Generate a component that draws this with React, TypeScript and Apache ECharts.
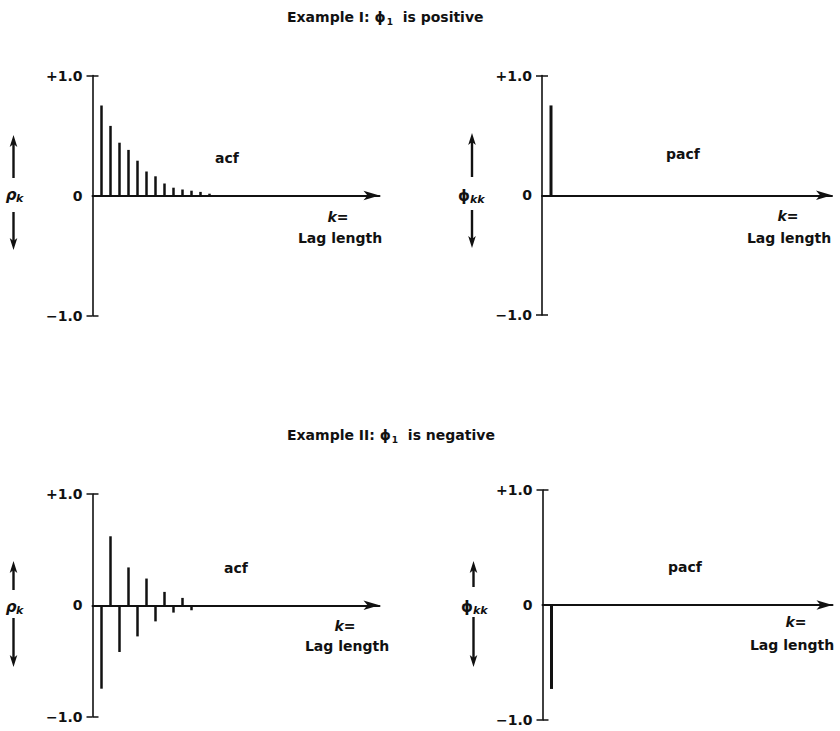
import React, { useEffect, useRef } from 'react';
import * as echarts from 'echarts';

// Correlogram values (lag k = 1, 2, ...)
const ACF_PHI_POSITIVE = [0.75, 0.58, 0.44, 0.38, 0.29, 0.2, 0.16, 0.1, 0.065, 0.05, 0.04, 0.03, 0.015];
const PACF_PHI_POSITIVE = [0.75];
const ACF_PHI_NEGATIVE = [-0.75, 0.62, -0.42, 0.34, -0.28, 0.24, -0.145, 0.12, -0.066, 0.066, -0.045];
const PACF_PHI_NEGATIVE = [-0.73];

const Y_TICKS = [-1, 0, 1];
const Y_TICK_LABELS = ['\u22121.0', '0', '+1.0'];
const PANEL_NAMES = ['acf', 'pacf', 'acf', 'pacf'];
const EXAMPLE_TITLES = [
  { head: 'Example I: \u03d5', tail: 'is positive' },
  { head: 'Example II: \u03d5', tail: 'is negative' },
];

const FONT = '"DejaVu Sans", "Open Sans", sans-serif';
const INK = '#111';
const LAG_PX = 9; // horizontal spacing of one lag step

type Panel = {
  left: number;
  top: number;
  width: number;
  height: number;
  values: number[];
  barWidth: number;
  name: string;
  symbol: 'rho' | 'phi';
  nameAt: [number, number];
  kAt: [number, number];
  lagAt: [number, number];
  symAt: [number, number];
  arrowX: number;
  upArrow: [number, number];
  downArrow: [number, number];
};

const panels: Panel[] = [
  {
    left: 92.5, top: 75.5, width: 287, height: 240, values: ACF_PHI_POSITIVE, barWidth: 2.5,
    name: PANEL_NAMES[0], symbol: 'rho', nameAt: [227, 158], kAt: [338, 217], lagAt: [340, 238],
    symAt: [11, 195], arrowX: 13.5, upArrow: [178, 135], downArrow: [212, 250],
  },
  {
    left: 542, top: 75.5, width: 290, height: 239.5, values: PACF_PHI_POSITIVE, barWidth: 3,
    name: PANEL_NAMES[1], symbol: 'phi', nameAt: [683, 154], kAt: [788, 216], lagAt: [789, 238],
    symAt: [464, 196], arrowX: 472, upArrow: [177, 133], downArrow: [210, 248],
  },
  {
    left: 92.5, top: 494, width: 287, height: 222.5, values: ACF_PHI_NEGATIVE, barWidth: 2.5,
    name: PANEL_NAMES[2], symbol: 'rho', nameAt: [236, 568], kAt: [345, 626], lagAt: [347, 646],
    symAt: [11, 607], arrowX: 13.5, upArrow: [590, 561], downArrow: [618, 667],
  },
  {
    left: 542.5, top: 490, width: 290, height: 230, values: PACF_PHI_NEGATIVE, barWidth: 3,
    name: PANEL_NAMES[3], symbol: 'phi', nameAt: [685, 567], kAt: [796, 622], lagAt: [792, 645],
    symAt: [467, 607], arrowX: 473.5, upArrow: [587, 561], downArrow: [617, 667],
  },
];

const textStyle = (size: number, extra: Record<string, unknown> = {}) => ({
  fontFamily: FONT,
  fontSize: size,
  fontWeight: 'bold',
  fill: INK,
  ...extra,
});

// vertical arrow: shaft from y0 to the tip at y1
function vArrow(x: number, y0: number, y1: number) {
  const dir = y1 < y0 ? -1 : 1;
  const headLen = 12;
  const headHalf = 3.8;
  return {
    type: 'group',
    children: [
      {
        type: 'line',
        shape: { x1: x, y1: y0, x2: x, y2: y1 - dir * headLen * 0.6 },
        style: { stroke: INK, lineWidth: 2.4 },
      },
      {
        type: 'polygon',
        shape: {
          points: [
            [x, y1],
            [x - headHalf, y1 - dir * headLen],
            [x, y1 - dir * headLen * 0.75],
            [x + headHalf, y1 - dir * headLen],
          ],
        },
        style: { fill: INK },
      },
    ],
  };
}

export default function App() {
  const ref = useRef<HTMLDivElement>(null);

  useEffect(() => {
    if (!ref.current) return;
    const chart = echarts.init(ref.current, null, { renderer: 'svg' });

    const labelFor = (v: number) => Y_TICK_LABELS[Y_TICKS.indexOf(Math.round(v))] ?? '';

    const grids = panels.map((p) => ({
      left: p.left,
      top: p.top,
      width: p.width,
      height: p.height,
      containLabel: false,
    }));

    const xAxes = panels.map((p, i) => ({
      type: 'value',
      gridIndex: i,
      min: 0,
      max: p.width / LAG_PX,
      axisLine: {
        show: true,
        onZero: true,
        lineStyle: { color: INK, width: 2 },
        symbol: ['none', 'arrow'],
        symbolSize: [7, 16],
      },
      axisTick: { show: false },
      axisLabel: { show: false },
      splitLine: { show: false },
    }));

    const yAxes: any[] = [];
    panels.forEach((p, i) => {
      // outer ticks with labels
      yAxes.push({
        type: 'value',
        gridIndex: i,
        min: -1,
        max: 1,
        interval: 1,
        position: 'left',
        axisLine: { show: true, onZero: false, lineStyle: { color: INK, width: 1.6 } },
        axisTick: { show: true, length: 6, customValues: [-1, 1], lineStyle: { color: INK, width: 1.5 } },
        axisLabel: {
          show: true,
          margin: 10,
          formatter: labelFor,
          color: INK,
          fontFamily: FONT,
          fontSize: 14,
          fontWeight: 'bold',
        },
        splitLine: { show: false },
      });
    });
    panels.forEach((p, i) => {
      // inner ticks so the tick marks cross the axis
      yAxes.push({
        type: 'value',
        gridIndex: i,
        min: -1,
        max: 1,
        interval: 1,
        position: 'left',
        axisLine: { show: false },
        axisTick: { show: true, inside: true, length: 6, customValues: [-1, 1], lineStyle: { color: INK, width: 1.5 } },
        axisLabel: { show: false },
        splitLine: { show: false },
      });
    });

    const series = panels.map((p, i) => ({
      type: 'bar',
      xAxisIndex: i,
      yAxisIndex: i,
      barWidth: p.barWidth,
      itemStyle: { color: INK },
      data: p.values.map((v, k) => [k + 1, v]),
    }));

    const graphics: any[] = [];
    panels.forEach((p) => {
      graphics.push({
        type: 'text',
        style: textStyle(14, { text: p.name, x: p.nameAt[0], y: p.nameAt[1], align: 'center', verticalAlign: 'middle' }),
      });
      graphics.push({
        type: 'text',
        style: {
          text: '{k|k}{e|=}',
          x: p.kAt[0],
          y: p.kAt[1],
          align: 'center',
          verticalAlign: 'middle',
          rich: {
            k: { fontFamily: FONT, fontSize: 14, fontWeight: 'bold', fontStyle: 'italic', fill: INK },
            e: { fontFamily: FONT, fontSize: 14, fontWeight: 'bold', fill: INK },
          },
        },
      });
      graphics.push({
        type: 'text',
        style: textStyle(14, { text: 'Lag length', x: p.lagAt[0], y: p.lagAt[1], align: 'center', verticalAlign: 'middle' }),
      });
      const isRho = p.symbol === 'rho';
      graphics.push({
        type: 'text',
        style: textStyle(15, {
          text: isRho ? '\u03c1' : '\u03d5',
          x: p.symAt[0],
          y: p.symAt[1],
          align: 'center',
          verticalAlign: 'middle',
          fontStyle: isRho ? 'italic' : 'normal',
        }),
      });
      graphics.push({
        type: 'text',
        style: textStyle(11, {
          text: isRho ? 'k' : 'kk',
          x: p.symAt[0] + (isRho ? 5 : 6),
          y: p.symAt[1] + 3,
          align: 'left',
          verticalAlign: 'middle',
          fontStyle: 'italic',
        }),
      });
      graphics.push(vArrow(p.arrowX, p.upArrow[0], p.upArrow[1]));
      graphics.push(vArrow(p.arrowX, p.downArrow[0], p.downArrow[1]));
    });

    const titleRich = {
      a: { fontFamily: FONT, fontSize: 14, fontWeight: 'bold', color: INK },
      s: { fontFamily: FONT, fontSize: 9, fontWeight: 'bold', color: INK, padding: [9, 0, 0, 1] },
    };
    const titles = EXAMPLE_TITLES.map((t, i) => ({
      text: `{a|${t.head}}{s|1}{a|  ${t.tail}}`,
      left: 287,
      top: i === 0 ? 8 : 426,
      padding: 0,
      textStyle: { rich: titleRich },
    }));

    chart.setOption({
      animation: false,
      backgroundColor: '#fff',
      title: titles,
      grid: grids,
      xAxis: xAxes,
      yAxis: yAxes,
      series,
      graphic: graphics,
    });

    return () => chart.dispose();
  }, []);

  return (
    <div
      ref={ref}
      style={{ position: 'fixed', left: 0, top: 0, width: 840, height: 731, background: '#fff' }}
    />
  );
}
